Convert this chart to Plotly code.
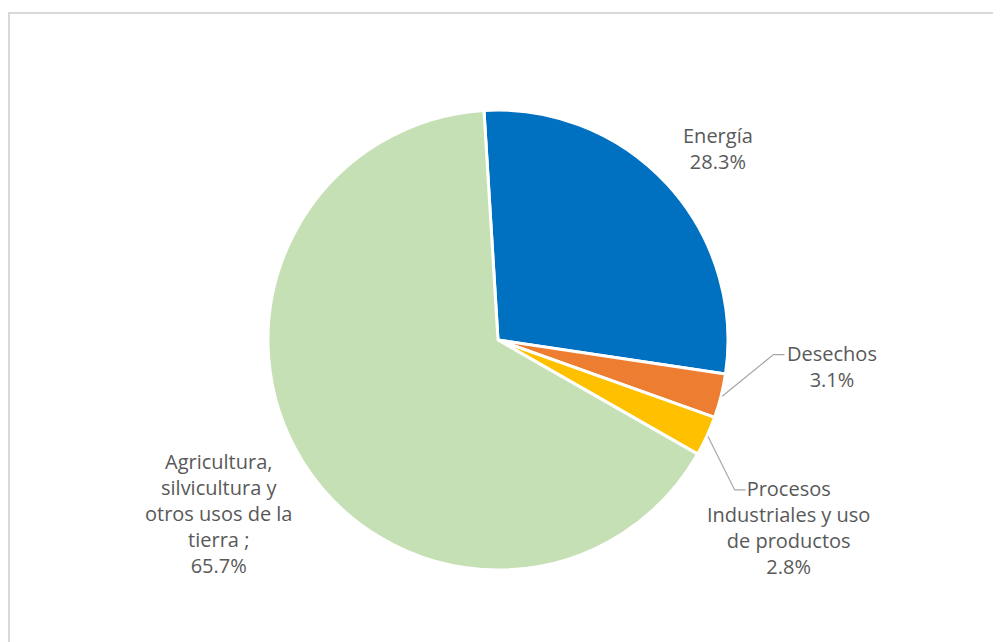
import math
import plotly.graph_objects as go

# ---- data ----
categories = ["Energía", "Desechos", "Procesos Industriales y uso de productos",
              "Agricultura, silvicultura y otros usos de la tierra ;"]
label_text = ["Energía", "Desechos", "Procesos<br>Industriales y uso<br>de productos",
              "Agricultura,<br>silvicultura y<br>otros usos de la<br>tierra ;"]
values = [28.3, 3.1, 2.8, 65.7]
colors = ["#0070C0", "#ED7D31", "#FFC000", "#C5E0B4"]

# ---- layout / geometry (page pixels) ----
PAGE_W, PAGE_H = 1001, 642
OFF = 8  # default body margin of the html page
W, H = PAGE_W - OFF, PAGE_H - OFF
CX, CY, R = 498, 340, 230
ROT = -3.5  # degrees, first slice start (clockwise from 12 o'clock)
FONT = dict(family="Open Sans", size=20, color="#595959")
LINE_H = 26

label_pos = [
    dict(rf=1.26, dang=1.5, line=False, half=0, dx=1, dy=-1),
    dict(rf=1.45, dang=-9.5, line=True, half=45, dx=2, dy=0),
    dict(rf=1.50, dang=8.5, line=True, half=40, dx=2, dy=-1),
    dict(rf=1.42, dang=0.7, line=False, half=0, dx=0, dy=4),
]

def fx(x):
    return (x - OFF) / W

def fy(y):
    return 1 - (y - OFF) / H

fig = go.Figure(go.Pie(
    labels=categories, values=values, sort=False, direction="clockwise",
    rotation=ROT,
    marker=dict(colors=colors, line=dict(color="white", width=3)),
    textinfo="none", hoverinfo="label+percent", showlegend=False,
    domain=dict(x=[fx(CX - R), fx(CX + R)], y=[fy(CY + R), fy(CY - R)]),
))

total = sum(values)
cum = 0
annotations = []
shapes = []
for i, v in enumerate(values):
    mid = ROT + (cum + v / 2) / total * 360
    cum += v
    p = label_pos[i]
    a = math.radians(mid + p["dang"])
    lx = CX + p["rf"] * R * math.sin(a) + p["dx"]
    ly = CY - p["rf"] * R * math.cos(a) + p["dy"]
    text = f"{label_text[i]}<br>{v:.1f}%"
    annotations.append(dict(x=fx(lx), y=fy(ly), xref="paper", yref="paper", text=text,
                            showarrow=False, align="center", xanchor="center", yanchor="middle",
                            font=FONT))
    if p["line"]:
        am = math.radians(mid)
        sx, sy = CX + R * 1.005 * math.sin(am), CY - R * 1.005 * math.cos(am)
        nlines = text.count("<br>") + 1
        top_line_y = ly - (nlines - 1) * LINE_H / 2 + 1
        ex = lx - p["half"] - 3
        kx = ex - 11
        pts = [(sx, sy), (kx, top_line_y), (ex, top_line_y)]
        path = "M " + " L ".join(f"{fx(x)},{fy(y)}" for x, y in pts)
        shapes.append(dict(type="path", xref="paper", yref="paper", path=path,
                           line=dict(color="#A6A6A6", width=1.2)))

# chart-area border
shapes.append(dict(type="rect", xref="paper", yref="paper", x0=fx(9), x1=1.02, y0=-0.02, y1=fy(13),
                   line=dict(color="#D9D9D9", width=2), layer="below"))

fig.update_layout(width=W, height=H, margin=dict(l=0, r=0, t=0, b=0),
                  paper_bgcolor="white", plot_bgcolor="white",
                  annotations=annotations, shapes=shapes)
fig.write_html("out.html")
